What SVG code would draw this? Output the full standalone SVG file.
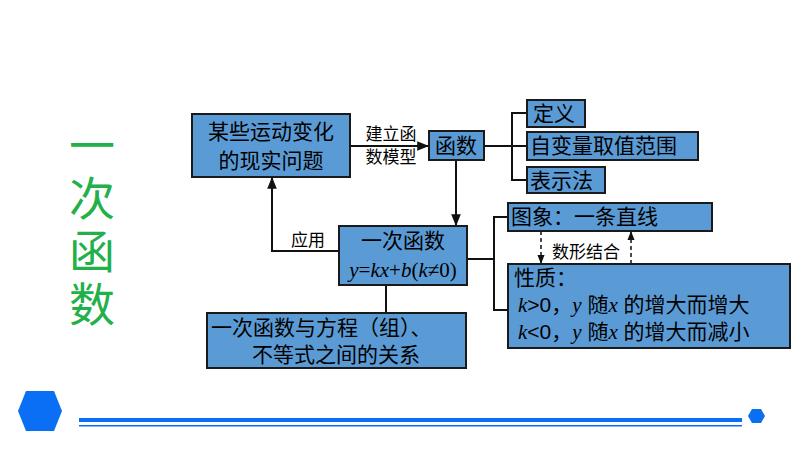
<svg xmlns="http://www.w3.org/2000/svg" width="800" height="450" viewBox="0 0 800 450">
<style>
.b{fill:#5b9bd5;stroke:#1a1a1a;stroke-width:2}
.t{font-family:"Liberation Sans","Noto Sans CJK SC",sans-serif;font-size:21px;fill:#000}
.s{font-family:"Liberation Sans","Noto Sans CJK SC",sans-serif;font-size:17px;fill:#000}
.m{font-family:"Liberation Serif","Noto Sans CJK SC",serif;font-size:21px;fill:#000}
.c{fill:none;stroke:#111;stroke-width:2}
.d{fill:none;stroke:#111;stroke-width:1.5;stroke-dasharray:4 3}
</style>
<defs>
<marker id="a" viewBox="0 0 10 10" refX="9" refY="5" markerWidth="6" markerHeight="6" orient="auto"><path d="M0,1L10,5L0,9z" fill="#111"/></marker>
</defs>
<g id="title"><text x="92" y="122" font-family="Noto Sans CJK SC,sans-serif" font-size="46" fill="#22b04a" style="writing-mode:vertical-rl" letter-spacing="7">一次函数</text></g>
<g id="connectors">
<path class="c" d="M350,146H428" marker-end="url(#a)"/>
<path class="c" d="M484,146H512M527,113H512V180H527M512,146H527"/>
<path class="c" d="M456,160V225" marker-end="url(#a)"/>
<path class="c" d="M339,251H272V178" marker-end="url(#a)"/>
<path class="c" d="M386,285V313"/>
<path class="c" d="M467,259H494M508,217H494V310H508"/>
<path class="d" d="M541,231V263" marker-end="url(#a)"/>
<path class="d" d="M631,264V232" marker-end="url(#a)"/>
</g>
<g id="n1"><rect class="b" x="192" y="114" width="158" height="63"/><text class="t" x="271" y="139" text-anchor="middle">某些运动变化</text><text class="t" x="271" y="168" text-anchor="middle">的现实问题</text></g>
<g id="l1"><text class="s" x="391" y="140" text-anchor="middle">建立函</text><text class="s" x="391" y="163" text-anchor="middle">数模型</text></g>
<g id="n2"><rect class="b" x="429" y="131" width="55" height="29"/><text class="t" x="456" y="153" text-anchor="middle">函数</text></g>
<g id="n3"><rect class="b" x="527" y="100" width="58" height="27"/><text class="t" x="533" y="121">定义</text></g>
<g id="n4"><rect class="b" x="527" y="132" width="171" height="28"/><text class="t" x="530" y="153">自变量取值范围</text></g>
<g id="n5"><rect class="b" x="527" y="167" width="78" height="26"/><text class="t" x="530" y="188">表示法</text></g>
<g id="n6"><rect class="b" x="339" y="226" width="128" height="59"/><text class="t" x="403" y="248" text-anchor="middle">一次函数</text><text class="m" x="403" y="277" text-anchor="middle" font-style="italic">y<tspan font-style="normal">=</tspan>kx<tspan font-style="normal">+</tspan>b<tspan font-style="normal">(</tspan>k<tspan font-style="normal">≠0)</tspan></text></g>
<g id="l2"><text class="s" x="308" y="246" text-anchor="middle">应用</text></g>
<g id="n7"><rect class="b" x="207" y="313" width="259" height="55"/><text class="t" x="211" y="335">一次函数与方程（组）、</text><text class="t" x="336" y="362" text-anchor="middle">不等式之间的关系</text></g>
<g id="n8"><rect class="b" x="508" y="203" width="204" height="28"/><text class="t" x="511" y="224">图象：一条直线</text></g>
<g id="l3"><text class="s" x="586" y="258" text-anchor="middle">数形结合</text></g>
<g id="n9"><rect class="b" x="508" y="264" width="282" height="84"/><text class="t" x="514" y="285">性质：</text>
<text class="t" x="518" y="312"><tspan class="m" font-style="italic">k</tspan>&gt;0，<tspan class="m" font-style="italic">y</tspan> 随<tspan class="m" font-style="italic">x</tspan> 的增大而增大</text>
<text class="t" x="518" y="339"><tspan class="m" font-style="italic">k</tspan>&lt;0，<tspan class="m" font-style="italic">y</tspan> 随<tspan class="m" font-style="italic">x</tspan> 的增大而减小</text></g>
<g id="deco">
<polygon points="26,391 54,391 62,411 54,431 26,431 18,411" fill="#0a6ff5"/>
<polygon points="752,409 761,409 765,416 761,423 752,423 748,416" fill="#0a6ff5"/>
<rect x="79" y="418" width="663" height="4" fill="#0a6ff5"/>
<rect x="79" y="425" width="663" height="1.5" fill="#0a6ff5"/>
</g>
</svg>
